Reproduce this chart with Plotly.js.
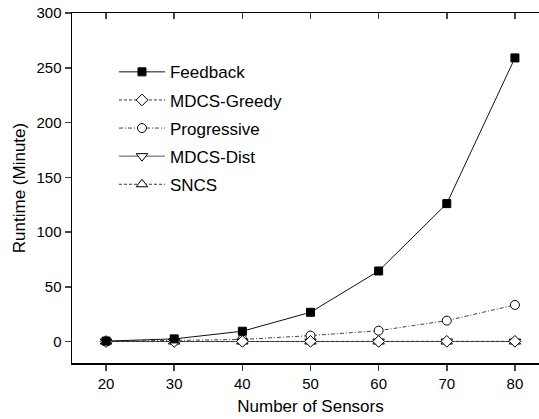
<!DOCTYPE html>
<html><head><meta charset="utf-8">
<script src="https://cdn.plot.ly/plotly-3.0.1.min.js"></script>
<style>html,body{margin:0;padding:0;overflow:hidden;background:#fff;}</style>
</head><body>
<div id="chart"></div>
<script>
const sensors = [20, 30, 40, 50, 60, 70, 80];
const feedback = [0.5, 2.5, 9.5, 26.8, 64.5, 126, 259];
const mdcsGreedy = [0.1, 0.1, 0.2, 0.2, 0.2, 0.3, 0.3];
const progressive = [0.3, 1, 2, 5.5, 10, 19.2, 33.5];
const mdcsDist = [0.1, 0.1, 0.1, 0.1, 0.1, 0.1, 0.1];
const sncs = [0.1, 0.1, 0.1, 0.1, 0.1, 0.1, 0.1];

const names = ['Feedback', 'MDCS-Greedy', 'Progressive', 'MDCS-Dist', 'SNCS'];
const series = [feedback, mdcsGreedy, progressive, mdcsDist, sncs];
const symbols = ['square', 'diamond', 'circle', 'triangle-down', 'triangle-up'];
const dashes = ['solid', '3px,2px', '4px,2px,1px,2px', 'solid', '3px,2px'];
const lineColors = ['#111', '#333', '#444', '#555', '#333'];
const sizes = [8, 9, 9, 10, 10];

const traces = series.map((s, i) => ({
  x: sensors, y: s, name: names[i], type: 'scatter', mode: 'lines+markers',
  legendgroup: 'g' + i, legendrank: i + 1,
  line: {color: lineColors[i], width: 1, dash: dashes[i]},
  marker: {symbol: symbols[i], size: sizes[i], color: i === 0 ? '#000' : '#fff',
           line: {color: '#000', width: 1}}
}));
const drawn = traces.slice().reverse();
drawn.push({x: [sensors[0]], y: [0], xaxis: 'x2', yaxis: 'y', showlegend: false,
  mode: 'markers', marker: {opacity: 0}, hoverinfo: 'skip'});

const fontFam = 'Arial, "Liberation Sans", sans-serif';
const layout = {
  width: 560, height: 419,
  margin: {l: 72, r: 11, t: 13, b: 56},
  paper_bgcolor: '#fff', plot_bgcolor: '#fff',
  font: {family: fontFam, color: '#000', size: 14},
  showlegend: true,
  legend: {x: 0.088, y: 0.882, xanchor: 'left', yanchor: 'top', traceorder: 'grouped',
           tracegroupgap: 3, itemwidth: 46, font: {size: 17, family: fontFam}, bgcolor: 'rgba(0,0,0,0)'},
  xaxis: {range: [15, 85], tickvals: sensors, ticks: 'outside', ticklen: 6, tickwidth: 1.5,
          showline: true, linewidth: 1.5, linecolor: '#000', showgrid: false, zeroline: false,
          tickfont: {size: 15}, title: {text: 'Number of Sensors', font: {size: 17}, standoff: 9}},
  xaxis2: {range: [15, 85], overlaying: 'x', side: 'top', anchor: 'y', tickvals: sensors,
           ticks: 'inside', ticklen: 6, tickwidth: 1.5, showline: true, linewidth: 1.5,
           linecolor: '#000', showgrid: false, zeroline: false, showticklabels: false},
  yaxis: {range: [-19.5, 300], tickvals: [0, 50, 100, 150, 200, 250, 300], ticks: 'outside',
          ticklen: 6, tickwidth: 1.5, showline: true, linewidth: 1.5, linecolor: '#000',
          showgrid: false, zeroline: false, tickfont: {size: 15},
          title: {text: 'Runtime (Minute)', font: {size: 17}, standoff: 6}}
};
Plotly.newPlot('chart', drawn, layout, {displayModeBar: false, staticPlot: true});
</script>
</body></html>
